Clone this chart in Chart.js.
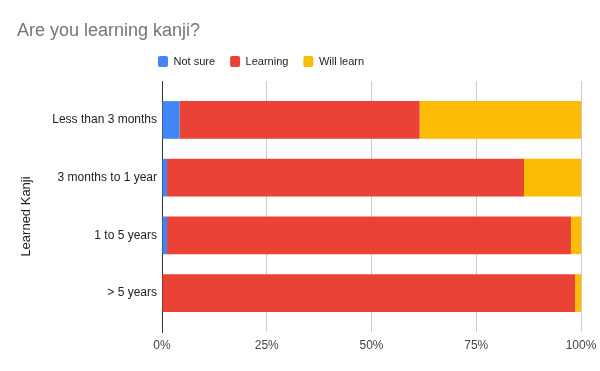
<!DOCTYPE html>
<html>
<head>
<meta charset="utf-8">
<script src="https://cdn.jsdelivr.net/npm/chart.js@4/dist/chart.umd.min.js"></script>
<style>
html,body{margin:0;padding:0;background:#fff;}
#wrap{width:600px;height:371px;}
</style>
</head>
<body>
<div id="wrap"><canvas id="c" width="600" height="371"></canvas></div>
<script>
const categories = ["Less than 3 months", "3 months to 1 year", "1 to 5 years", "> 5 years"];
const notSure   = [4.2, 1.2, 1.2, 0];
const learning  = [57.3, 85.2, 96.4, 98.6];
const willLearn = [38.5, 13.6, 2.4, 1.4];
const xTickValues = [0, 25, 50, 75, 100];
const seriesNames = ["Not sure", "Learning", "Will learn"];

const FONT = 'Arial, "Liberation Sans", sans-serif';

const layoutTweaks = {
  id: 'layoutTweaks',
  beforeLayout(chart) {
    const lg = chart.legend;
    if (lg && !lg._tw) {
      const f = lg.fit;
      lg.fit = function () { f.call(this); this.height = 40; };
      lg._tw = true;
    }
  },
  afterLayout(chart) {
    if (chart.legend) chart.legend.left = 143;
    const y = chart.scales.y;
    const e = 0.175;
    y._startValue -= e;
    y._valueRange += 2 * e;
    y._labelItems = null;
    if (!y._tw) {
      const dt = y.drawTitle;
      y.drawTitle = function (a) {
        this.top += 10; this.bottom += 10;
        dt.call(this, a);
        this.top -= 10; this.bottom -= 10;
      };
      y._tw = true;
    }
  }
};

new Chart(document.getElementById('c'), {
  type: 'bar',
  data: {
    labels: categories,
    datasets: [
      { label: seriesNames[0], data: notSure,   backgroundColor: '#4285F4' },
      { label: seriesNames[1], data: learning,  backgroundColor: '#EA4335' },
      { label: seriesNames[2], data: willLearn, backgroundColor: '#FBBC04' }
    ]
  },
  plugins: [layoutTweaks],
  options: {
    responsive: false,
    animation: false,
    indexAxis: 'y',
    datasets: { bar: { borderWidth: 0, categoryPercentage: 1, barPercentage: 0.653 } },
    layout: { padding: { left: 17, right: 19, top: 0, bottom: 0 } },
    font: { family: FONT },
    plugins: {
      title: {
        display: true,
        text: 'Are you learning kanji?',
        align: 'start',
        color: '#757575',
        font: { family: FONT, size: 18, weight: 'normal', lineHeight: 1 },
        padding: { top: 22, bottom: 1 }
      },
      legend: {
        position: 'top',
        align: 'start',
        labels: {
          boxWidth: 10, boxHeight: 11, padding: 15,
          color: '#222', font: { family: FONT, size: 11 },
          useBorderRadius: true, borderRadius: 2
        }
      },
      tooltip: { enabled: false }
    },
    scales: {
      x: {
        stacked: true,
        min: 0, max: 100,
        afterBuildTicks: s => { s.ticks = xTickValues.map(v => ({ value: v })); },
        ticks: { callback: v => v + '%', color: '#444', font: { family: FONT, size: 12 }, padding: 6, maxRotation: 0 },
        grid: { color: c => c.index === 0 ? 'rgba(0,0,0,0)' : '#cccccc', drawTicks: false, lineWidth: 1 },
        border: { display: false },
        afterFit: s => { s.height = 39; s.paddingRight = 0; s.paddingLeft = 0; }
      },
      y: {
        stacked: true,
        grid: { display: false, drawTicks: false },
        border: { display: true, color: '#333', width: 1 },
        ticks: { color: '#222', font: { family: FONT, size: 12 }, padding: 5 },
        title: { display: true, text: 'Learned Kanji', color: '#222', font: { family: FONT, size: 13 }, padding: { top: 2, bottom: 0 } },
        afterFit: s => { s.width = 145; }
      }
    }
  }
});
</script>
</body>
</html>
